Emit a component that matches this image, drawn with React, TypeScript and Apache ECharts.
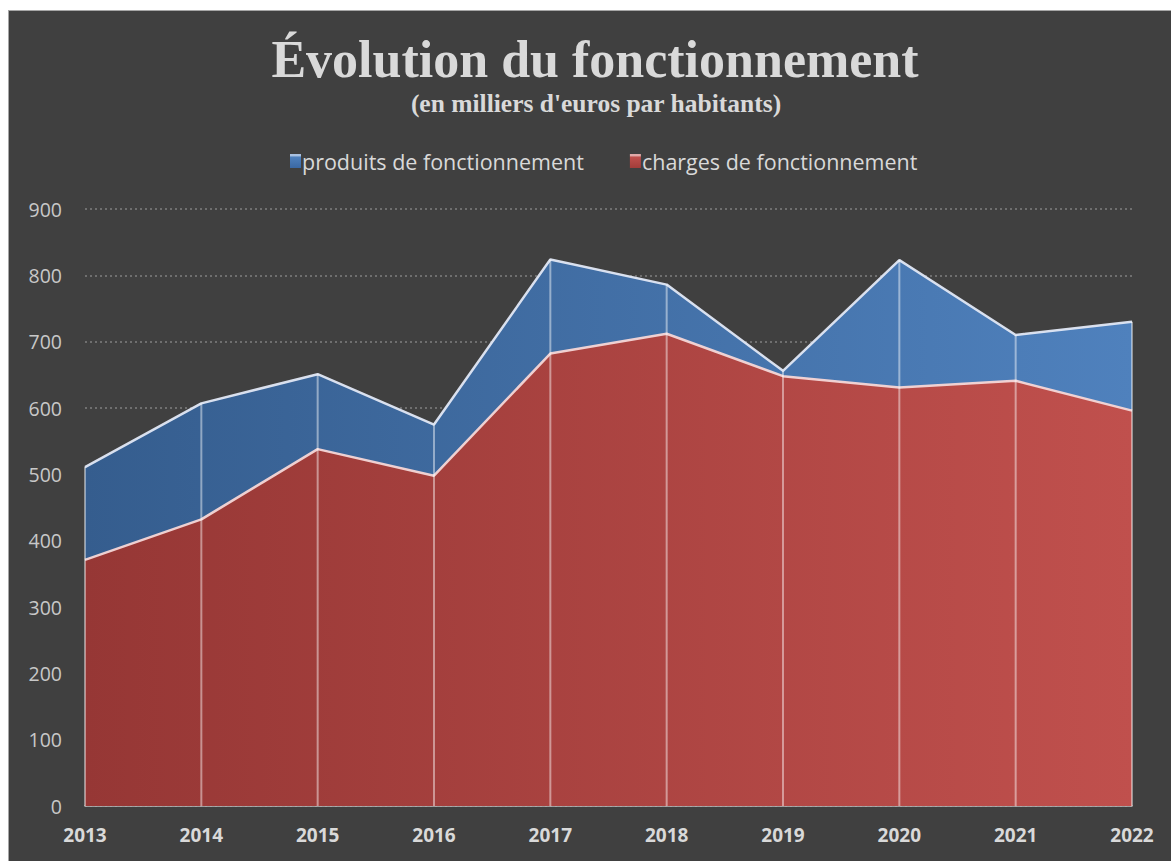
import React, { useEffect, useRef } from "react";
import * as echarts from "echarts";

const years = ["2013", "2014", "2015", "2016", "2017", "2018", "2019", "2020", "2021", "2022"];
const produits = [511, 607, 651, 575, 824, 786, 656, 823, 710, 730];
const charges = [371, 432, 538, 498, 682, 712, 648, 631, 641, 596];
const yTicks = { min: 0, max: 900, interval: 100 };

const titleText = "Évolution du fonctionnement";
const subtitleText = "(en milliers d'euros par habitants)";
const nameProduits = "produits de fonctionnement";
const nameCharges = "charges de fonctionnement";

export default function App() {
  const ref = useRef<HTMLDivElement>(null);
  useEffect(() => {
    if (!ref.current) return;
    const chart = echarts.init(ref.current, undefined, { renderer: "svg" });
    const blueGrad = new echarts.graphic.LinearGradient(0, 0, 1, 0, [
      { offset: 0, color: "#355d8e" },
      { offset: 1, color: "#4f81bd" },
    ]);
    const redGrad = new echarts.graphic.LinearGradient(0, 0, 1, 0, [
      { offset: 0, color: "#963735" },
      { offset: 1, color: "#c0504d" },
    ]);
    const legBlue = new echarts.graphic.LinearGradient(0, 0, 0, 1, [
      { offset: 0, color: "#a9c1e0" },
      { offset: 0.15, color: "#a9c1e0" },
      { offset: 0.2, color: "#4f81bd" },
      { offset: 1, color: "#3a68a4" },
    ]);
    const legRed = new echarts.graphic.LinearGradient(0, 0, 0, 1, [
      { offset: 0, color: "#e0a9a8" },
      { offset: 0.15, color: "#e0a9a8" },
      { offset: 0.2, color: "#c0504d" },
      { offset: 1, color: "#a23d3a" },
    ]);
    const dropData = years.map((_, i) => [i, Math.max(produits[i], charges[i])]);
    chart.setOption({
      animation: false,
      backgroundColor: "#404040",
      graphic: [
        {
          type: "text",
          x: 586,
          y: 48,
          style: {
            text: titleText,
            fill: "#d9d9d9",
            font: "bold 52px 'Liberation Serif', 'DejaVu Serif', serif",
            textAlign: "center",
            textVerticalAlign: "middle",
          },
        },
        {
          type: "text",
          x: 587,
          y: 92,
          style: {
            text: subtitleText,
            fill: "#d9d9d9",
            font: "bold 25.5px 'Liberation Serif', 'DejaVu Serif', serif",
            textAlign: "center",
            textVerticalAlign: "middle",
          },
        },
      ],
      legend: {
        left: 276,
        top: 134,
        icon: "rect",
        itemWidth: 11,
        itemHeight: 14,
        itemGap: 46,
        textStyle: { color: "#d9d9d9", fontSize: 21.5, fontFamily: "'Open Sans', sans-serif", padding: [0, 0, 0, -4] },
        data: [
          { name: nameProduits, itemStyle: { color: legBlue } },
          { name: nameCharges, itemStyle: { color: legRed } },
        ],
      },
      grid: { left: 76, top: 198, width: 1047, height: 597, containLabel: false },
      xAxis: {
        type: "category",
        data: years,
        boundaryGap: false,
        axisLine: { lineStyle: { color: "#bfbfbf", width: 1.5 } },
        axisTick: { show: false },
        axisLabel: {
          color: "#d9d9d9",
          fontSize: 19,
          fontWeight: "bold",
          fontFamily: "'Open Sans', sans-serif",
          margin: 19,
        },
        splitLine: { show: false },
      },
      yAxis: {
        type: "value",
        min: yTicks.min,
        max: yTicks.max,
        interval: yTicks.interval,
        axisLine: { show: false },
        axisTick: { show: false },
        axisLabel: {
          color: "#c8c8c8",
          fontSize: 19.5,
          fontFamily: "'Open Sans', sans-serif",
          margin: 23,
        },
        splitLine: { lineStyle: { color: "#7f7f7f", type: [2, 3], width: 1.5 } },
      },
      series: [
        {
          name: nameProduits,
          type: "line",
          data: produits,
          showSymbol: false,
          symbol: "none",
          lineStyle: { color: "rgba(225,232,245,0.95)", width: 2.5 },
          itemStyle: { color: "#4f81bd" },
          areaStyle: { color: blueGrad, opacity: 1 },
          z: 2,
        },
        {
          name: nameCharges,
          type: "line",
          data: charges,
          showSymbol: false,
          symbol: "none",
          lineStyle: { color: "rgba(245,215,215,0.95)", width: 2.5 },
          itemStyle: { color: "#c0504d" },
          areaStyle: { color: redGrad, opacity: 1 },
          z: 3,
        },
        {
          name: "drop",
          type: "custom",
          data: dropData,
          z: 4,
          silent: true,
          renderItem: (params: any, api: any) => {
            const top = api.coord([api.value(0), api.value(1)]);
            const bottom = api.coord([api.value(0), 0]);
            return {
              type: "line",
              shape: { x1: top[0], y1: top[1], x2: bottom[0], y2: bottom[1] },
              style: { stroke: "rgba(255,255,255,0.45)", lineWidth: 2 },
            };
          },
        },
      ],
    });
    return () => chart.dispose();
  }, []);
  return (
    <div
      style={{
        position: "fixed",
        left: 8,
        top: 10,
        width: 1170,
        height: 860,
        borderLeft: "1px solid #a6a6a6",
        borderTop: "1px solid #a6a6a6",
        background: "#404040",
      }}
    >
      <div ref={ref} style={{ width: 1162, height: 850 }} />
    </div>
  );
}
